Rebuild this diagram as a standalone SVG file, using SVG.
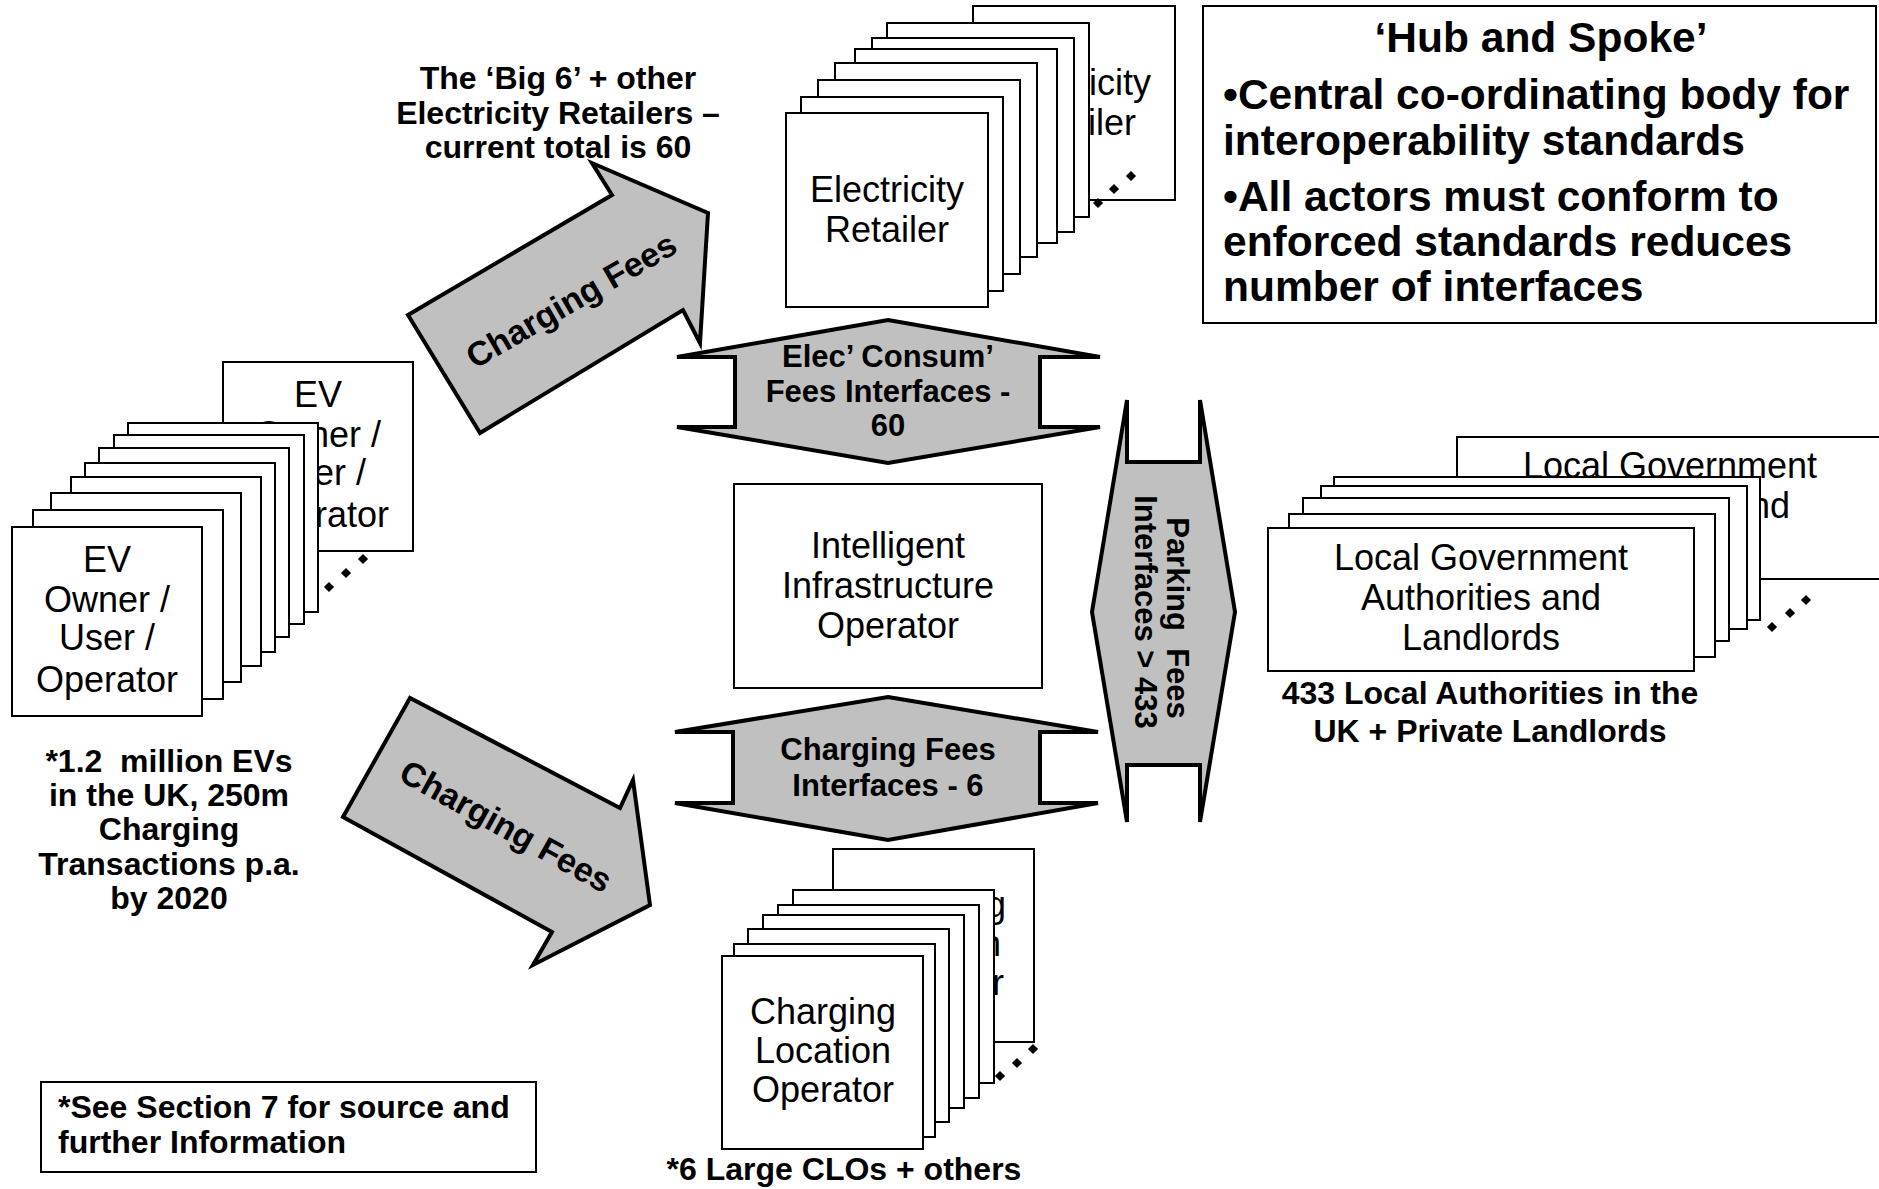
<svg xmlns="http://www.w3.org/2000/svg" width="1879" height="1189" viewBox="0 0 1879 1189">
<style>
.bg{fill:#fff}
.box{fill:#fff;stroke:#000;stroke-width:2}
.reg{font-family:"Liberation Sans",Arial,sans-serif;font-size:36px;text-anchor:middle;fill:#000}
.b{font-family:"Liberation Sans",Arial,sans-serif;font-weight:bold;font-size:32px;fill:#000}
.c{text-anchor:middle}
.hub{font-family:"Liberation Sans",Arial,sans-serif;font-weight:bold;font-size:42.5px;fill:#000}
.shape{fill:#c0c0c0;stroke:#000;stroke-width:4;stroke-linejoin:miter}
.hx{font-family:"Liberation Sans",Arial,sans-serif;font-weight:bold;font-size:31px;text-anchor:middle;fill:#000}
.ar{font-family:"Liberation Sans",Arial,sans-serif;font-weight:bold;font-size:34px;text-anchor:middle;fill:#000}
</style>
<defs>
<rect id="dot" x="-3.6" y="-3.6" width="7.2" height="7.2" transform="rotate(45)" fill="#000"/>
</defs>
<rect class="bg" x="0" y="0" width="1879" height="1189"/>

<!-- EV Owner stack -->
<g id="ev-owner">
<rect class="box" x="223" y="362" width="190" height="189"/>
<text class="reg"><tspan x="318" y="407">EV</tspan><tspan x="318" y="447">Owner /</tspan><tspan x="318" y="485">User /</tspan><tspan x="318" y="527">Operator</tspan></text>
<rect class="box" x="128" y="423" width="190" height="189"/>
<rect class="box" x="114" y="435" width="190" height="189"/>
<rect class="box" x="99" y="448" width="190" height="189"/>
<rect class="box" x="85" y="463" width="190" height="189"/>
<rect class="box" x="71" y="477" width="190" height="189"/>
<rect class="box" x="51" y="493" width="190" height="189"/>
<rect class="box" x="33" y="510" width="190" height="189"/>
<rect class="box" x="12" y="527" width="190" height="189"/>
<text class="reg"><tspan x="107" y="572">EV</tspan><tspan x="107" y="612">Owner /</tspan><tspan x="107" y="650">User /</tspan><tspan x="107" y="692">Operator</tspan></text>
<use href="#dot" x="363" y="559"/><use href="#dot" x="346" y="573"/><use href="#dot" x="329" y="587"/>
</g>

<!-- Electricity Retailer stack -->
<g id="electricity-retailer">
<rect class="box" x="973" y="6" width="202" height="194"/>
<text class="reg"><tspan x="1074" y="95">Electricity</tspan><tspan x="1074" y="135">Retailer</tspan></text>
<rect class="box" x="887" y="23" width="202" height="194"/>
<rect class="box" x="872" y="38" width="202" height="194"/>
<rect class="box" x="855" y="49" width="202" height="194"/>
<rect class="box" x="835" y="63" width="202" height="194"/>
<rect class="box" x="818" y="80" width="202" height="194"/>
<rect class="box" x="801" y="97" width="202" height="194"/>
<rect class="box" x="786" y="113" width="202" height="194"/>
<text class="reg"><tspan x="887" y="202">Electricity</tspan><tspan x="887" y="242">Retailer</tspan></text>
<use href="#dot" x="1131" y="176"/><use href="#dot" x="1114" y="189"/><use href="#dot" x="1098" y="203"/>
</g>

<!-- Charging Location Operator stack -->
<g id="charging-location-operator">
<rect class="box" x="833" y="849" width="201" height="193"/>
<text class="reg"><tspan x="933" y="917">Charging</tspan><tspan x="933" y="956">Location</tspan><tspan x="933" y="995">Operator</tspan></text>
<rect class="box" x="793" y="890" width="201" height="193"/>
<rect class="box" x="778" y="905" width="201" height="193"/>
<rect class="box" x="763" y="915" width="201" height="193"/>
<rect class="box" x="748" y="929" width="201" height="193"/>
<rect class="box" x="734" y="944" width="201" height="193"/>
<rect class="box" x="722" y="956" width="201" height="193"/>
<text class="reg"><tspan x="823" y="1024">Charging</tspan><tspan x="823" y="1063">Location</tspan><tspan x="823" y="1102">Operator</tspan></text>
<use href="#dot" x="1033" y="1049"/><use href="#dot" x="1017" y="1063"/><use href="#dot" x="1000" y="1076"/>
</g>

<!-- Local Government stack -->
<g id="local-government">
<rect class="box" x="1457" y="437" width="426" height="142"/>
<text class="reg"><tspan x="1670" y="478">Local Government</tspan><tspan x="1670" y="518">Authorities and</tspan><tspan x="1670" y="558">Landlords</tspan></text>
<rect class="box" x="1334" y="477" width="426" height="143"/>
<rect class="box" x="1321" y="486" width="426" height="143"/>
<rect class="box" x="1303" y="498" width="426" height="143"/>
<rect class="box" x="1289" y="514" width="426" height="143"/>
<rect class="box" x="1268" y="528" width="426" height="143"/>
<text class="reg"><tspan x="1481" y="570">Local Government</tspan><tspan x="1481" y="610">Authorities and</tspan><tspan x="1481" y="650">Landlords</tspan></text>
<use href="#dot" x="1806" y="600"/><use href="#dot" x="1790" y="613"/><use href="#dot" x="1772" y="627"/>
</g>

<!-- Intelligent Infrastructure Operator -->
<g id="intelligent-infrastructure-operator">
<rect class="box" x="734" y="484" width="308" height="204"/>
<text class="reg"><tspan x="888" y="558">Intelligent</tspan><tspan x="888" y="598">Infrastructure</tspan><tspan x="888" y="638">Operator</tspan></text>
</g>

<!-- Hub and Spoke box -->
<g id="hub-and-spoke">
<rect class="box" x="1203" y="6" width="673" height="317"/>
<text class="hub c" x="1541" y="52">‘Hub and Spoke’</text>
<text class="hub"><tspan x="1223" y="109">•Central co-ordinating body for</tspan><tspan x="1223" y="155">interoperability standards</tspan><tspan x="1223" y="211">•All actors must conform to</tspan><tspan x="1223" y="256">enforced standards reduces</tspan><tspan x="1223" y="301">number of interfaces</tspan></text>
</g>

<!-- Annotations -->
<g id="label-retailers">
<text class="b c"><tspan x="558" y="89">The ‘Big 6’ + other</tspan><tspan x="558" y="124">Electricity Retailers –</tspan><tspan x="558" y="158">current total is 60</tspan></text>
</g>
<g id="label-evs">
<text class="b c" xml:space="preserve"><tspan x="169" y="772">*1.2  million EVs</tspan><tspan x="169" y="806">in the UK, 250m</tspan><tspan x="169" y="840">Charging</tspan><tspan x="169" y="875">Transactions p.a.</tspan><tspan x="169" y="909">by 2020</tspan></text>
</g>
<g id="label-authorities">
<text class="b c"><tspan x="1490" y="704">433 Local Authorities in the</tspan><tspan x="1490" y="742">UK + Private Landlords</tspan></text>
</g>
<g id="label-clos">
<text class="b c" x="844" y="1180">*6 Large CLOs + others</text>
</g>
<g id="note">
<rect class="box" x="41" y="1082" width="495" height="90"/>
<text class="b"><tspan x="58" y="1118">*See Section 7 for source and</tspan><tspan x="58" y="1153">further Information</tspan></text>
</g>

<!-- Connectors -->
<g id="connectors">
<g id="arrow-fees-upper">
<path class="shape" d="M480,433 L408,315 L612,195 L592,163 L708,213 L700,343 L683,310 Z"/>
<text class="ar" transform="translate(571,300) rotate(-30)" x="0" y="12">Charging Fees</text>
</g>
<g id="arrow-fees-lower">
<path class="shape" d="M410,698 L343,817 L552,932 L533,965 L650,905 L633,780 L620,808 Z"/>
<text class="ar" transform="translate(506,826) rotate(29)" x="0" y="12">Charging Fees</text>
</g>
<g id="link-elec-consum">
<path class="shape" d="M888,320 L1100,357 L1040,357 L1040,427 L1100,427 L888,463 L677,427 L735,427 L735,357 L677,357 Z"/>
<text class="hx"><tspan x="888" y="367">Elec’ Consum’</tspan><tspan x="888" y="402">Fees Interfaces -</tspan><tspan x="888" y="436">60</tspan></text>
</g>
<g id="link-charging-fees">
<path class="shape" d="M888,697 L1098,732 L1040,732 L1040,803 L1098,803 L888,840 L675,803 L733,803 L733,732 L675,732 Z"/>
<text class="hx"><tspan x="888" y="760">Charging Fees</tspan><tspan x="888" y="796">Interfaces - 6</tspan></text>
</g>
<g id="link-parking-fees">
<path class="shape" d="M1092,612 L1127,400 L1127,462 L1200,462 L1200,400 L1235,612 L1200,822 L1200,765 L1127,765 L1127,822 Z"/>
<text class="hx" xml:space="preserve" transform="translate(1167,618) rotate(90)" x="0" y="0">Parking  Fees</text>
<text class="hx" transform="translate(1135,612) rotate(90)" x="0" y="0">Interfaces &gt; 433</text>
</g>
</g>
</svg>
